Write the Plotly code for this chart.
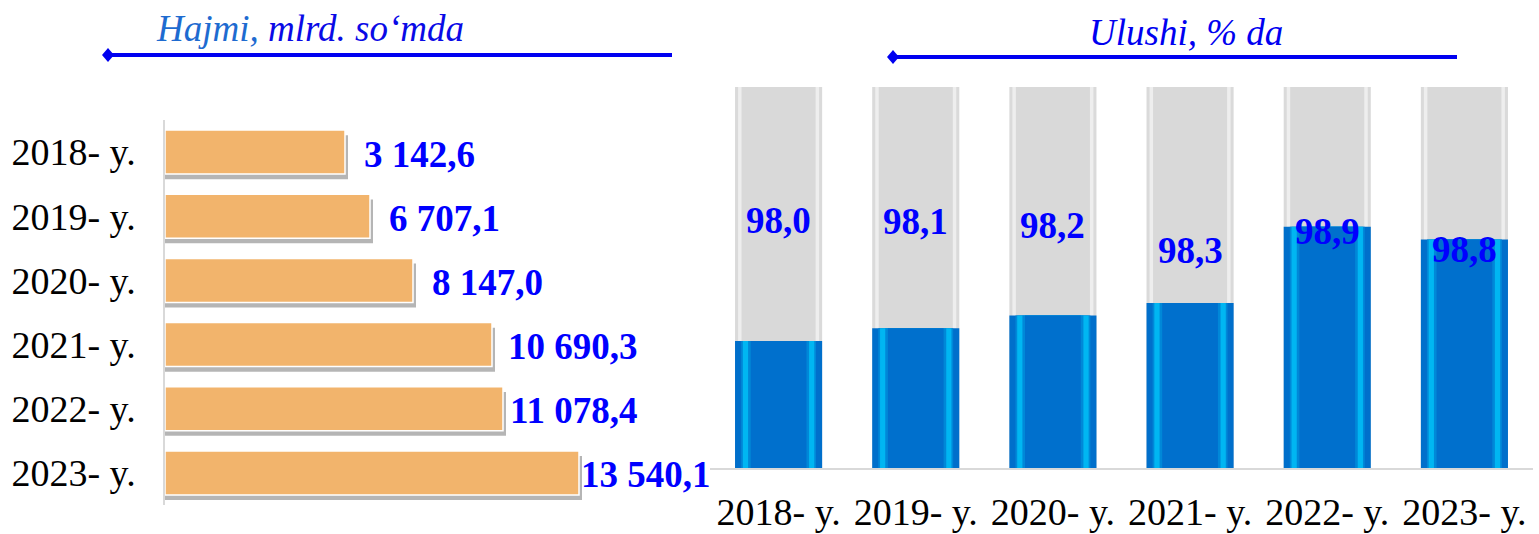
import plotly.graph_objects as go

# Data
years = ['2018- y.', '2019- y.', '2020- y.', '2021- y.', '2022- y.', '2023- y.']
volume_labels = ['3 142,6', '6 707,1', '8 147,0', '10 690,3', '11 078,4', '13 540,1']
# drawn bar lengths of the left chart (they are not to scale with the labels)
volume_bar_len = [180, 205, 248, 327, 338, 414]
share = [98.0, 98.1, 98.2, 98.3, 98.9, 98.8]
share_labels = ['98,0', '98,1', '98,2', '98,3', '98,9', '98,8']
share_total = [100, 100, 100, 100, 100, 100]

W, H = 1539, 534
FONT = 'Liberation Serif'
BLUE_TXT = '#0000FF'

def px_x(p):
    return p / W

def px_y(p):
    return 1 - p / H

fig = go.Figure()

# ── LEFT: horizontal bars ──
bar_h = 0.685
fig.add_trace(go.Bar(
    orientation='h', y=years, x=[v + 3 for v in volume_bar_len],
    width=bar_h, offset=-bar_h / 2 + 0.08,
    marker=dict(color='rgba(70,70,70,0.4)', line=dict(width=0)),
    xaxis='x', yaxis='y', hoverinfo='skip'
))
fig.add_trace(go.Bar(
    orientation='h', y=years, x=volume_bar_len, width=bar_h,
    marker=dict(color='#F2B46C', line=dict(color='white', width=1.5)),
    xaxis='x', yaxis='y'
))

label_gap = [17, 17, 17, 14, 5, 0]
annotations = []
for i, yr in enumerate(years):
    annotations.append(dict(
        x=volume_bar_len[i], y=yr, xref='x', yref='y',
        text='<b>%s</b>' % volume_labels[i], showarrow=False,
        xanchor='left', xshift=label_gap[i], yshift=-2,
        font=dict(family=FONT, size=37, color=BLUE_TXT)
    ))

# ── RIGHT: share columns with a stripe look ──
col_w = 0.635
grey_layers = [(1.0, '#DADADA'), (0.93, '#EEEEEE'), (0.85, '#D9D9D9')]
blue_layers = [(1.0, '#006FCB'), (0.86, '#0088D8'), (0.82, '#00B6F2'),
               (0.70, '#0088D8'), (0.64, '#0070CD')]
for frac, col in grey_layers:
    fig.add_trace(go.Bar(
        x=years, y=share_total, width=col_w * frac,
        marker=dict(color=col, line=dict(width=0)),
        xaxis='x2', yaxis='y2', hoverinfo='skip'
    ))
for frac, col in blue_layers:
    fig.add_trace(go.Bar(
        x=years, y=share, width=col_w * frac,
        marker=dict(color=col, line=dict(width=0)),
        xaxis='x2', yaxis='y2'
    ))

share_label_y = [98.95, 98.94, 98.91, 98.71, 98.86, 98.72]
for i, yr in enumerate(years):
    annotations.append(dict(
        x=yr, y=share_label_y[i], xref='x2', yref='y2',
        text='<b>%s</b>' % share_labels[i], showarrow=False,
        font=dict(family=FONT, size=37, color=BLUE_TXT)
    ))

# ── headers ──
annotations.append(dict(
    x=px_x(310), y=px_y(28), xref='paper', yref='paper', showarrow=False,
    xanchor='center', yanchor='middle',
    text='<i><span style="color:#1E6BD0">Hajmi,</span> mlrd. so‘mda</i>',
    font=dict(family=FONT, size=37, color='#0A0AE6')
))
annotations.append(dict(
    x=px_x(1186), y=px_y(32), xref='paper', yref='paper', showarrow=False,
    xanchor='center', yanchor='middle',
    text='<i>Ulushi, % da</i>',
    font=dict(family=FONT, size=37, color='#0000F0')
))

shapes = []
for x0, x1, yy in [(108, 672, 55), (893, 1457, 57)]:
    shapes.append(dict(
        type='line', xref='paper', yref='paper',
        x0=px_x(x0), x1=px_x(x1), y0=px_y(yy), y1=px_y(yy),
        line=dict(color='#0000F0', width=4)
    ))
    shapes.append(dict(
        type='path', xref='paper', yref='paper',
        path='M %f %f L %f %f L %f %f L %f %f Z' % (
            px_x(x0 - 6), px_y(yy), px_x(x0), px_y(yy - 7),
            px_x(x0 + 6), px_y(yy), px_x(x0), px_y(yy + 7)),
        fillcolor='#0000F0', line=dict(width=0)
    ))

fig.update_layout(
    width=W, height=H,
    margin=dict(l=0, r=0, t=0, b=0),
    paper_bgcolor='white', plot_bgcolor='white',
    barmode='overlay', showlegend=False,
    annotations=annotations, shapes=shapes,
    xaxis=dict(domain=[px_x(165), px_x(615)], range=[0, 450], visible=False,
               anchor='y', automargin=False),
    yaxis=dict(domain=[px_y(505), px_y(120)], type='category',
               categoryorder='array', categoryarray=years, autorange='reversed',
               showline=True, linecolor='#D9D9D9', linewidth=1.5,
               showgrid=False, zeroline=False, ticks='',
               ticklabelstandoff=20, anchor='x', automargin=False,
               tickfont=dict(family=FONT, size=38, color='black')),
    xaxis2=dict(domain=[px_x(710), px_x(1533)], anchor='y2', type='category',
                showline=True, linecolor='#D9D9D9', linewidth=2,
                showgrid=False, zeroline=False, ticks='',
                ticklabelstandoff=9, automargin=False,
                tickfont=dict(family=FONT, size=38, color='black')),
    yaxis2=dict(domain=[px_y(468), px_y(87)], range=[97, 100], anchor='x2',
                visible=False, showgrid=False, zeroline=False, automargin=False),
)

# drop the default page margin so the chart sits at the window's corner
fig.write_html("out.html", config={'displayModeBar': False},
               post_script="document.body.style.margin='0';")
